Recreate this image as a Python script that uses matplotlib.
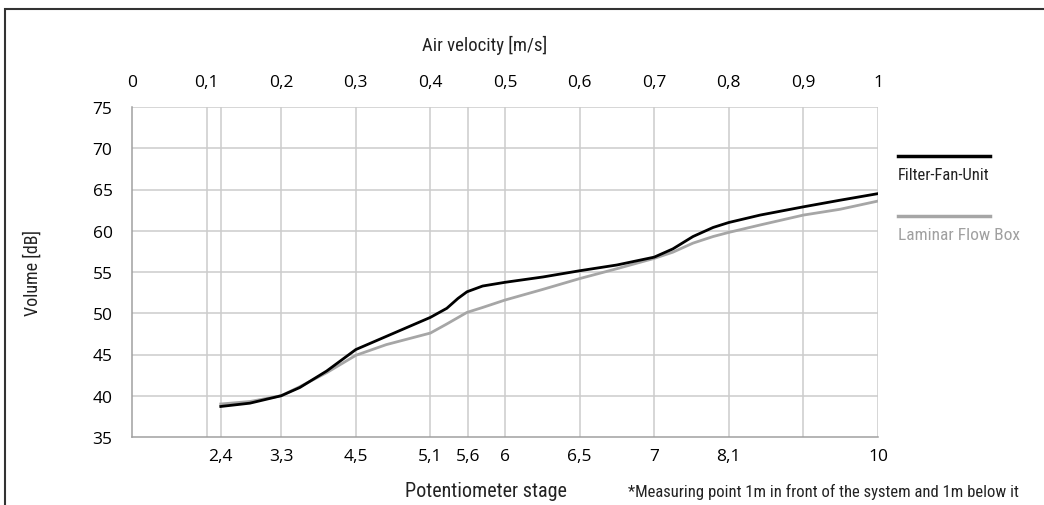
import numpy as np
import matplotlib
matplotlib.use('Agg')
import matplotlib.pyplot as plt
from matplotlib import font_manager
from matplotlib.patches import Rectangle

# air velocity [m/s] on x, volume [dB] on y
vel_ffu = [0.119, 0.158, 0.2, 0.225, 0.261, 0.3, 0.341, 0.4, 0.422, 0.437, 0.449, 0.47,
           0.5, 0.551, 0.6, 0.65, 0.7, 0.725, 0.752, 0.779, 0.8, 0.842, 0.9, 0.949, 1.0]
db_ffu = [38.7, 39.1, 40.0, 41.0, 43.0, 45.6, 47.2, 49.5, 50.6, 51.8, 52.6, 53.3,
          53.75, 54.4, 55.15, 55.85, 56.8, 57.8, 59.3, 60.4, 61.0, 61.9, 62.9, 63.7, 64.5]

vel_lfb = [0.119, 0.158, 0.2, 0.225, 0.261, 0.3, 0.341, 0.4, 0.422, 0.449, 0.47,
           0.5, 0.551, 0.6, 0.65, 0.7, 0.725, 0.752, 0.779, 0.8, 0.842, 0.9, 0.949, 1.0]
db_lfb = [39.0, 39.3, 40.0, 41.1, 42.8, 44.9, 46.2, 47.6, 48.7, 50.1, 50.7,
          51.6, 52.9, 54.2, 55.4, 56.65, 57.4, 58.5, 59.3, 59.8, 60.7, 61.9, 62.6, 63.6]

vel_ticks = [0, 0.1, 0.2, 0.3, 0.4, 0.5, 0.6, 0.7, 0.8, 0.9, 1.0]
vel_labels = ['0', '0,1', '0,2', '0,3', '0,4', '0,5', '0,6', '0,7', '0,8', '0,9', '1']
stage_pos = [0.119, 0.2, 0.3, 0.4, 0.45, 0.5, 0.6, 0.7, 0.8, 1.0]
stage_labels = ['2,4', '3,3', '4,5', '5,1', '5,6', '6', '6,5', '7', '8,1', '10']
db_ticks = [35, 40, 45, 50, 55, 60, 65, 70, 75]


def pick(*names):
    for n in names:
        try:
            font_manager.findfont(n, fallback_to_default=False)
            return n
        except Exception:
            pass
    return 'DejaVu Sans'

num_font = pick('Open Sans', 'Lato', 'DejaVu Sans')
narrow = pick('Liberation Sans Narrow', 'Roboto Condensed', 'Liberation Sans')

fig = plt.figure(figsize=(10.44, 5.06), dpi=100)
W, H = 1044, 506
ax = fig.add_axes([132 / W, 1 - 438 / H, (878 - 132) / W, (438 - 108) / H])

grid_c = '#cccccc'
for v in sorted(set(vel_ticks[1:] + stage_pos)):
    ax.axvline(v, color=grid_c, lw=1.1, zorder=1)
for d in db_ticks[1:]:
    ax.axhline(d, color=grid_c, lw=1.1, zorder=1)

ax.plot(vel_lfb, db_lfb, color='#a6a6a6', lw=2, zorder=3)
ax.plot(vel_ffu, db_ffu, color='black', lw=2, zorder=4)

ax.set_xlim(0, 1)
ax.set_ylim(35, 75)
for s in ['top', 'right']:
    ax.spines[s].set_visible(False)
for s in ['left', 'bottom']:
    ax.spines[s].set_color('#a0a0a0')
    ax.spines[s].set_linewidth(1.1)

ax.set_xticks(stage_pos)
ax.set_xticklabels(stage_labels, fontfamily=num_font, fontsize=12.5)
ax.set_yticks(db_ticks)
ax.set_yticklabels([str(d) for d in db_ticks], fontfamily=num_font, fontsize=12.5)
ax.tick_params(axis='x', length=0, pad=8)
ax.tick_params(axis='y', length=0, pad=14)

top = ax.secondary_xaxis('top')
top.set_xticks(vel_ticks)
top.set_xticklabels(vel_labels, fontfamily=num_font, fontsize=12.5)
top.tick_params(length=0, pad=12)
top.spines['top'].set_visible(False)

fig.text(485 / W, 1 - 45 / H, 'Air velocity [m/s]', ha='center', va='center',
         fontfamily=narrow, fontsize=13.5, color='#222222')
fig.text(486 / W, 1 - 492 / H, 'Potentiometer stage', ha='center', va='center',
         fontfamily=narrow, fontsize=14.5, color='#222222')
fig.text(33 / W, 1 - 273 / H, 'Volume [dB]', ha='center', va='center', rotation=90,
         fontfamily=narrow, fontsize=13, color='#222222')
fig.text(628 / W, 1 - 492 / H, '*Measuring point 1m in front of the system and 1m below it',
         ha='left', va='center', fontfamily=narrow, fontsize=12, color='#222222')

# legend on the right
fig.add_artist(plt.Line2D([898 / W, 990 / W], [1 - 157 / H, 1 - 157 / H], color='black', lw=2.5))
fig.text(898 / W, 1 - 176 / H, 'Filter-Fan-Unit', ha='left', va='center',
         fontfamily=narrow, fontsize=12, color='#222222')
fig.add_artist(plt.Line2D([898 / W, 990 / W], [1 - 217 / H, 1 - 217 / H], color='#a6a6a6', lw=2.5))
fig.text(898 / W, 1 - 236 / H, 'Laminar Flow Box', ha='left', va='center',
         fontfamily=narrow, fontsize=12.5, color='#a0a0a0')

# outer frame
fig.add_artist(Rectangle((5 / W, -0.2), 1.2, 1.2 - 10 / H, transform=fig.transFigure,
                         fill=False, edgecolor='#333333', lw=1.5, clip_on=False))

fig.savefig('out.png', dpi=100)
